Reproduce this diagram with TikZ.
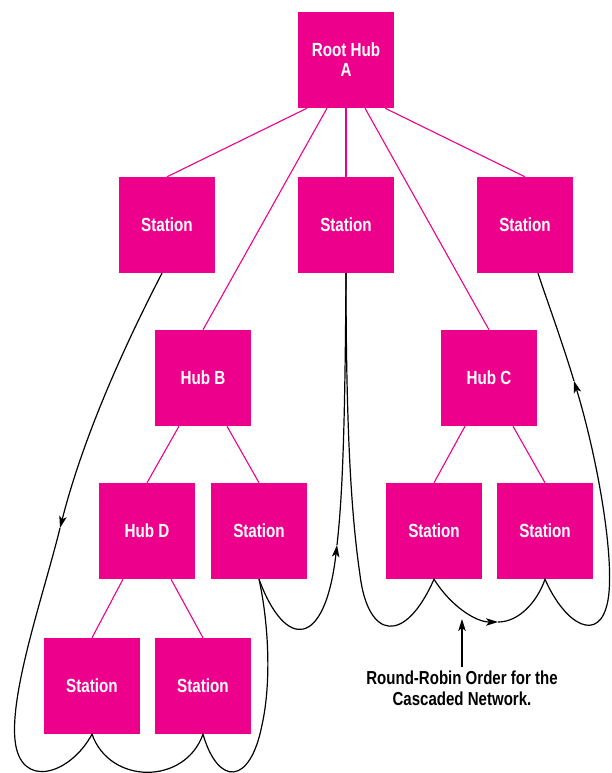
\documentclass[tikz,border=0pt]{standalone}
\usepackage{fontspec}
\newfontfamily\hpfont[FakeStretch=0.8]{Liberation Sans}
\usetikzlibrary{arrows.meta,calc}
\definecolor{hpmag}{RGB}{236,0,140}
\begin{document}
\begin{tikzpicture}[x=1pt,y=-1pt,
  box/.style={fill=hpmag,minimum size=96pt,inner sep=0pt,text=white,
    font=\hpfont\bfseries\fontsize{19}{20}\selectfont,align=center},
  link/.style={draw=hpmag,line width=1.1pt},
  rr/.style={draw=black,line width=1.2pt},
  tipped/.style={-{Stealth[length=12pt,width=7.5pt,inset=3pt]}},
  capfont/.style={font=\hpfont\bfseries\fontsize{18.8}{21}\selectfont,align=center,inner sep=0pt}]
\useasboundingbox (0,0) rectangle (612,773);
% boxes
\node[box] (root) at (346,60) {Root Hub\\A};
\node[box] (s1) at (167,225) {Station};
\node[box] (s2) at (346,225) {Station};
\node[box] (s3) at (525,225) {Station};
\node[box] (hubB) at (203,378) {Hub B};
\node[box] (hubC) at (489,378) {Hub C};
\node[box] (hubD) at (147,531) {Hub D};
\node[box] (sB) at (259,531) {Station};
\node[box] (sC1) at (434,531) {Station};
\node[box] (sC2) at (545,531) {Station};
\node[box] (sD1) at (92,686) {Station};
\node[box] (sD2) at (203,686) {Station};
% tree links
\draw[link] ($(root.south)+(-39,0)$) -- (s1.north);
\draw[link] ($(root.south)+(-19,0)$) -- (hubB.north);
\draw[link] (root.south) -- (s2.north);
\draw[link] ($(root.south)+(19,0)$) -- (hubC.north);
\draw[link] ($(root.south)+(39,0)$) -- (s3.north);
\draw[link] ($(hubB.south)+(-24,0)$) -- (hubD.north);
\draw[link] ($(hubB.south)+(24,0)$) -- (sB.north);
\draw[link] ($(hubC.south)+(-24,0)$) -- (sC1.north);
\draw[link] ($(hubC.south)+(24,0)$) -- (sC2.north);
\draw[link] ($(hubD.south)+(-24,0)$) -- (sD1.north);
\draw[link] ($(hubD.south)+(24,0)$) -- (sD2.north);
% round-robin path
\coordinate (a1) at (60,528);
\coordinate (a2) at (337,545);
\coordinate (a3) at (498,622);
\coordinate (a4) at (574,381);
\draw[rr,tipped] ($(s1.south)+(-5,0)$) .. controls (130,335) and (85,430) .. (a1);
\draw[rr] (a1) .. controls (45,590) and (10,690) .. (15,740)
  .. controls (20,790) and (70,775) .. (sD1.south)
  .. controls (110,785) and (185,785) .. (sD2.south)
  .. controls (218,786) and (250,786) .. (262,725)
  .. controls (272,680) and (268,620) .. (sB.south);
\draw[rr,tipped] (sB.south) .. controls (285,650) and (325,650) .. (a2);
\draw[rr] (a2) .. controls (342,500) and (345,440) .. (s2.south);
\draw[rr,tipped] (s2.south) .. controls (346,440) and (352,520) .. (360,575)
  .. controls (368,640) and (405,645) .. (sC1.south)
  .. controls (450,605) and (475,622) .. (a3);
\draw[rr,tipped] (a3) .. controls (520,622) and (538,600) .. (sC2.south)
  .. controls (565,625) and (600,645) .. (608,600)
  .. controls (615,560) and (598,460) .. (a4);
\draw[rr] (a4) .. controls (560,335) and (545,295) .. ($(s3.south)+(13,0)$);
% caption
\node[capfont,anchor=north] (cap) at (462,671) {Round-Robin Order for the\\Cascaded Network.};
\coordinate (captip) at (462,619);
\draw[rr,tipped] ($(cap.north)+(0,-4)$) -- (captip);
\end{tikzpicture}
\end{document}
